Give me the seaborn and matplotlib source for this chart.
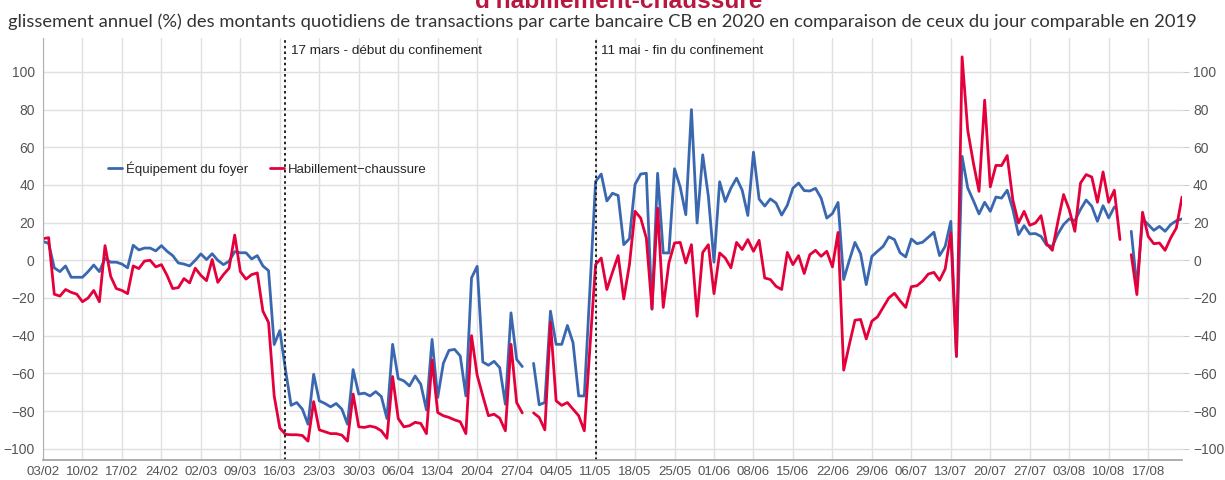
import numpy as np
import pandas as pd
import matplotlib
matplotlib.use("Agg")
import matplotlib.pyplot as plt
import seaborn as sns

# glissement annuel (%) quotidien, du lundi 03/02/2020 au dimanche 23/08/2020
debut = "2020-02-03"
nan = np.nan

equipement = [
    10, 9, -4, -6, -3, -9, -9,
    -9, -6, -2.5, -6, 1, -1, -1,
    -2, -4, 8, 5.5, 6.5, 6.5, 5,
    7.8, 4.8, 2.5, -1.4, -2, -3, 0,
    3.4, 0.4, 3.5, 0, -2.3, -0.5, 4.6,
    4, 4, 0.7, 2.5, -3, -5.5, -44.7,
    -37.3, -58, -77, -75.5, -79, -87, -60.5,
    -74.6, -76, -77.8, -76, -79, -87, -58,
    -71, -70.5, -72, -69.7, -72.3, -84, -44.6,
    -62.8, -64, -66.7, -61.4, -65.8, -79.4, -42,
    -72.8, -54.7, -47.8, -47.3, -50.8, -72, -9.3,
    -3.2, -54, -55.7, -53.6, -57, -76.4, -27.9,
    -52.6, -56.4, nan, -54.7, -76.7, -75.5, -27,
    -44.6, -44.6, -34.6, -43.7, -72, -72, -15,
    41.8, 45.8, 31.5, 35.6, 34.4, 8.3, 11.5,
    40.3, 45.8, 46.2, -26, 46.2, 3.9, 3.9,
    48.6, 39, 24.2, 80, 19.8, 56, 34,
    -1, 41.7, 31.2, 38.3, 43.6, 37.2, 23.8,
    57.4, 32.5, 28.8, 32.6, 30.4, 24, 29.2,
    38.3, 41, 37, 36.8, 38.2, 33, 22.4,
    24.8, 30.7, -10.2, 0, 9.5, 3.5, -12.9,
    2.1, 4.8, 7.4, 12.5, 11, 4, 1.8,
    11.3, 8.8, 9.6, 12.2, 14.9, 2.5, 7.4,
    20.7, -51, 55.2, 38.4, 31.7, 24.6, 30.8,
    26, 33.6, 33, 37.2, 27, 13.6, 18.4,
    14, 14.2, 12.7, 8, 7.4, 14, 19,
    22, 21, 27, 32, 28.7, 20.7, 29,
    22.5, 28.3, nan, nan, 15.4, -14, 22,
    19, 15.9, 18, 15.4, 19, 21, 22,
]

habillement = [
    11.5, 12, -18, -19, -15.5, -17, -18,
    -22, -20, -16, -22, 7.8, -8.5, -15,
    -16, -17.7, -3, -4.4, -0.4, 0, -3.5,
    -2.3, -8, -15, -14.5, -9.7, -12, -4.2,
    -8, -10.8, 0.4, -11.7, -7.6, -4.2, 13.4,
    -6, -10, -7.6, -6.7, -27, -33, -72,
    -89, -92.4, -92.6, -92.6, -93, -96, -75,
    -90, -91, -92, -92, -92.8, -96, -71,
    -88.4, -88.7, -88, -88.7, -90.5, -94.5, -61.7,
    -84, -88.4, -87.8, -86, -86.6, -92, -53,
    -80.8, -82.5, -83.4, -84.7, -85.7, -92, -40,
    -61, -72, -82.5, -81.7, -83.8, -90.5, -44.6,
    -75.5, -81, nan, -81, -83.4, -90, -33,
    -74.6, -77, -75.5, -79, -82.5, -90.5, -46,
    -2.3, 1.2, -15.5, -6.3, 2.5, -20.5, -2.3,
    26, 22.4, 11.8, -25.7, 27.7, -25, -1.4,
    9.2, 9.5, -1.4, 8.3, -29.7, 4.2, 8.3,
    -17.7, 3.9, 1.2, -4, 9.5, 5.7, 11,
    4.8, 10.6, -9.4, -10.2, -13.8, -15.5, 4.2,
    -2.3, 2.5, -7, 3, 5.3, 2.1, 4.8,
    -3.5, 14.8, -58.3, -44.7, -31.8, -31.4, -41.7,
    -32.3, -30, -25, -20, -17.5, -21.5, -25,
    -14, -13.5, -11, -7.3, -6.4, -10.6, -4.6,
    14.5, -51, 108, 69, 51.7, 36.6, 85,
    39, 50.4, 50.3, 55.6, 32, 19.8, 26,
    18.6, 19.8, 23.7, 8.8, 5.3, 20.7, 34.9,
    26.9, 15.4, 41, 45.5, 44.2, 30.8, 46.9,
    30.8, 37.2, 11, nan, 3, -18.2, 25.5,
    12.7, 8.8, 9.2, 5.3, 11.9, 17.2, 33.6,
]

series = ["Équipement du foyer", "Habillement−chaussure"]
couleurs = ["#3a68b0", "#e4003b"]
ticks_y = [-100, -80, -60, -40, -20, 0, 20, 40, 60, 80, 100]
evenements = [("2020-03-17", "17 mars - début du confinement"),
              ("2020-05-11", "11 mai - fin du confinement")]

titre = ("Montants de transactions par carte bancaire dans les commerces d'équipement du foyer et\n"
         "d'habillement-chaussure")
sous_titre = ("glissement annuel (%) des montants quotidiens de transactions par carte bancaire CB "
              "en 2020 en comparaison de ceux du jour comparable en 2019")


def construire_donnees():
    dates = pd.date_range(debut, periods=len(equipement), freq="D")
    frames = []
    for nom, vals in zip(series, [equipement, habillement]):
        d = pd.DataFrame({"date": dates, "valeur": vals, "serie": nom})
        # un segment par portion continue, pour couper la ligne aux jours manquants
        d["segment"] = d["valeur"].isna().cumsum()
        frames.append(d.dropna())
    return pd.concat(frames, ignore_index=True), dates


def main():
    df, dates = construire_donnees()

    sns.set_style("white")
    plt.rcParams["font.family"] = ["Liberation Sans", "DejaVu Sans"]

    fig = plt.figure(figsize=(12.25, 4.8), dpi=100)
    ax = fig.add_axes([43 / 1225, 20 / 480, 1139 / 1225, 422 / 480])

    sns.lineplot(data=df, x="date", y="valeur", hue="serie", hue_order=series,
                 units="segment", estimator=None, palette=couleurs,
                 linewidth=2.0, ax=ax)

    ax.set_xlim(dates[0], dates[-1])
    ax.set_ylim(-106, 118)
    ax.set_yticks(ticks_y)
    ticks_x = pd.date_range(debut, "2020-08-17", freq="7D")
    ax.set_xticks(ticks_x)
    ax.set_xticklabels([t.strftime("%d/%m") for t in ticks_x])
    ax.set_xlabel("")
    ax.set_ylabel("")

    ax.grid(True, color="#e0e0e0", linewidth=1)
    ax.set_axisbelow(True)
    for cote in ["top", "right"]:
        ax.spines[cote].set_visible(False)
    ax.spines["left"].set_color("#b0b0b0")
    ax.spines["bottom"].set_color("#a0a0a0")
    ax.spines["bottom"].set_linewidth(1.2)

    ax.tick_params(axis="x", length=3, color="#b0b0b0", labelsize=9.5,
                   labelcolor="#555555", pad=1)
    ax.tick_params(axis="y", length=0, labelsize=10, labelcolor="#555555", pad=6)

    ax2 = ax.twinx()
    ax2.set_ylim(ax.get_ylim())
    ax2.set_yticks(ticks_y)
    ax2.grid(False)
    for cote in ["top", "right", "left", "bottom"]:
        ax2.spines[cote].set_visible(False)
    ax2.tick_params(axis="y", length=5, color="#cccccc", labelsize=10,
                    labelcolor="#555555", pad=3)

    for jour, texte in evenements:
        x = pd.Timestamp(jour)
        ax.axvline(x, color="#222222", linestyle=(0, (1.3, 1.6)), linewidth=1.4)
        ax.text(x + pd.Timedelta(days=1), 111, texte, fontsize=9.7,
                color="#222222", va="center", ha="left")

    ax.legend(loc="center left", bbox_to_anchor=(0.057, 0.691), ncol=2,
              frameon=False, fontsize=9.5, handlelength=1.1, handletextpad=0.3,
              columnspacing=1.6, borderpad=0, borderaxespad=0)

    # titre sur deux lignes, rogné en haut comme dans l'original
    fig.text(619 / 1225, 1 - 8 / 480, titre, ha="center", va="baseline",
             fontsize=17.6, fontweight="bold", color="#b8173f", linespacing=1.2,
             multialignment="center")
    fig.text(602 / 1225, 1 - 22 / 480, sous_titre, ha="center", va="center",
             fontsize=13.2, color="#333333", family=["Lato", "DejaVu Sans"])

    fig.savefig("out.png", dpi=100)


if __name__ == "__main__":
    main()
